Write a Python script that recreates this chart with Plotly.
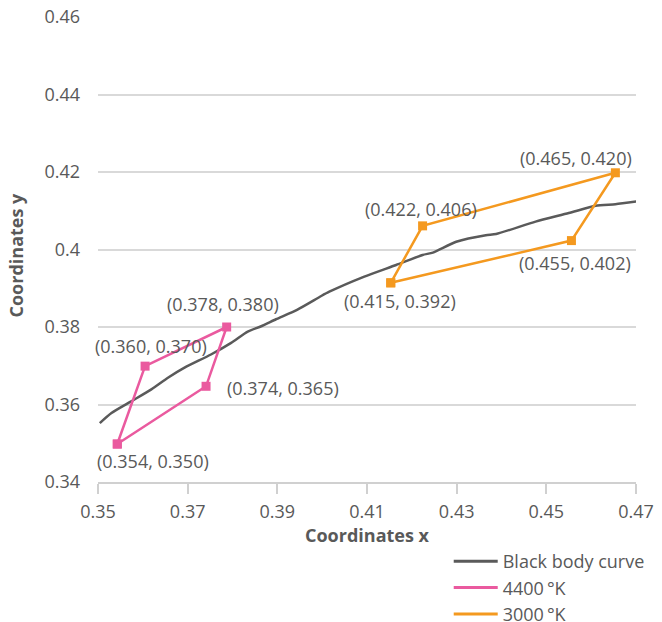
import plotly.graph_objects as go

# Black body curve
bb_x = [0.3504, 0.3530, 0.3574, 0.3619, 0.3656, 0.3693, 0.3752, 0.3797, 0.3834, 0.3864,
        0.3897, 0.3945, 0.3998, 0.4016, 0.4094, 0.4165, 0.4224, 0.4247, 0.4299, 0.4365,
        0.4388, 0.4476, 0.4550, 0.4610, 0.4654, 0.4702]
bb_y = [0.3552, 0.3578, 0.3608, 0.3639, 0.3669, 0.3695, 0.3729, 0.3759, 0.3788, 0.3802,
        0.3820, 0.3845, 0.3880, 0.3891, 0.3930, 0.3960, 0.3986, 0.3992, 0.4020, 0.4037,
        0.4040, 0.4072, 0.4094, 0.4113, 0.4117, 0.4124]

# 4400 K quadrilateral (closed)
k4400_x = [0.3543, 0.3605, 0.3787, 0.3741, 0.3543]
k4400_y = [0.3498, 0.3699, 0.3800, 0.3647, 0.3498]
k4400_labels = ["(0.354, 0.350)", "(0.360, 0.370)", "(0.378, 0.380)", "(0.374, 0.365)"]

# 3000 K quadrilateral (closed)
k3000_x = [0.4153, 0.4224, 0.4654, 0.4556, 0.4153]
k3000_y = [0.3914, 0.4061, 0.4198, 0.4023, 0.3914]
k3000_labels = ["(0.415, 0.392)", "(0.422, 0.406)", "(0.465, 0.420)", "(0.455, 0.402)"]

x_ticks = [0.35, 0.37, 0.39, 0.41, 0.43, 0.45, 0.47]
y_ticks = [0.34, 0.36, 0.38, 0.40, 0.42, 0.44, 0.46]
y_tick_text = ["0.34", "0.36", "0.38", "0.4", "0.42", "0.44", "0.46"]

series_names = ["Black body curve", "4400\u2009°K", "3000\u2009°K"]
x_title = "Coordinates x"
y_title = "Coordinates y"

# label pixel offsets (style): (dx, dy) from marker, screen px, y down
k4400_off = [(36, 17), (6, -20), (-4, -23), (77, 2)]
k3000_off = [(9, 18), (-2, -17), (-39, -15), (4, 22)]

GRAY = "#5a5a5a"
PINK = "#EA5A9F"
ORANGE = "#F4991F"
TXT = "#595959"
FONT = "Open Sans"
FS = 18

fig = go.Figure()
fig.add_trace(go.Scatter(x=bb_x, y=bb_y, mode="lines", name=series_names[0], showlegend=False,
                         line=dict(color=GRAY, width=2.5, shape="spline", smoothing=0.6),
                         hoverinfo="skip"))
fig.add_trace(go.Scatter(x=k4400_x, y=k4400_y, mode="lines+markers", name=series_names[1],
                         showlegend=False, cliponaxis=False,
                         line=dict(color=PINK, width=2.5),
                         marker=dict(symbol="square", size=9, color=PINK)))
fig.add_trace(go.Scatter(x=k3000_x, y=k3000_y, mode="lines+markers", name=series_names[2],
                         showlegend=False, cliponaxis=False,
                         line=dict(color=ORANGE, width=2.5),
                         marker=dict(symbol="square", size=9, color=ORANGE)))
# legend entries (line samples only)
for nm, col in zip(series_names, [GRAY, PINK, ORANGE]):
    fig.add_trace(go.Scatter(x=[None], y=[None], mode="lines", name=nm,
                             line=dict(color=col, width=3), showlegend=True))

# point labels
for xs, ys, labs, offs in [(k4400_x, k4400_y, k4400_labels, k4400_off),
                           (k3000_x, k3000_y, k3000_labels, k3000_off)]:
    for xv, yv, lab, (dx, dy) in zip(xs, ys, labs, offs):
        fig.add_annotation(x=xv, y=yv, xref="x", yref="y", text=lab, showarrow=False,
                           xanchor="center", yanchor="middle", xshift=dx, yshift=-dy,
                           font=dict(family=FONT, size=FS, color=TXT))

# y axis title
fig.add_annotation(x=0, y=0.5, xref="paper", yref="paper", text=f"<b>{y_title}</b>",
                   showarrow=False, textangle=-90, xanchor="center", yanchor="middle",
                   xshift=-83, yshift=-6, font=dict(family=FONT, size=FS, color=TXT))

fig.update_layout(
    width=662, height=690,
    margin=dict(l=98, r=24, t=17, b=208),
    paper_bgcolor="white", plot_bgcolor="white",
    font=dict(family=FONT, size=FS, color=TXT),
    showlegend=True,
    legend=dict(x=0.6519, y=-0.1312, xanchor="left", yanchor="top",
                font=dict(family=FONT, size=FS, color=TXT),
                itemwidth=44, tracegroupgap=0, bgcolor="rgba(0,0,0,0)"),
    xaxis=dict(range=[0.35, 0.47], tickvals=x_ticks, ticktext=[f"{v:.2f}" for v in x_ticks],
               automargin=False, ticklabeloverflow="allow",
               showgrid=False, zeroline=False, showline=True, linecolor="#d0d0d0", linewidth=1.5,
               ticks="outside", ticklen=10, tickcolor="#d0d0d0", tickwidth=1.5,
               ticklabelstandoff=3,
               tickfont=dict(family=FONT, size=FS, color=TXT),
               title=dict(text=f"<b>{x_title}</b>", font=dict(family=FONT, size=FS, color=TXT), standoff=7)),
    yaxis=dict(range=[0.34, 0.4600001], tickvals=y_ticks, ticktext=y_tick_text,
               automargin=False, ticklabeloverflow="allow",
               showgrid=True, gridcolor="#d9d9d9", gridwidth=1.5, zeroline=False, showline=False,
               ticks="", ticklabelstandoff=17,
               tickfont=dict(family=FONT, size=FS, color=TXT)),
)

fig.write_html("out.html", config={"displayModeBar": False},
               post_script="document.body.style.margin='0';document.body.style.overflow='hidden';")
